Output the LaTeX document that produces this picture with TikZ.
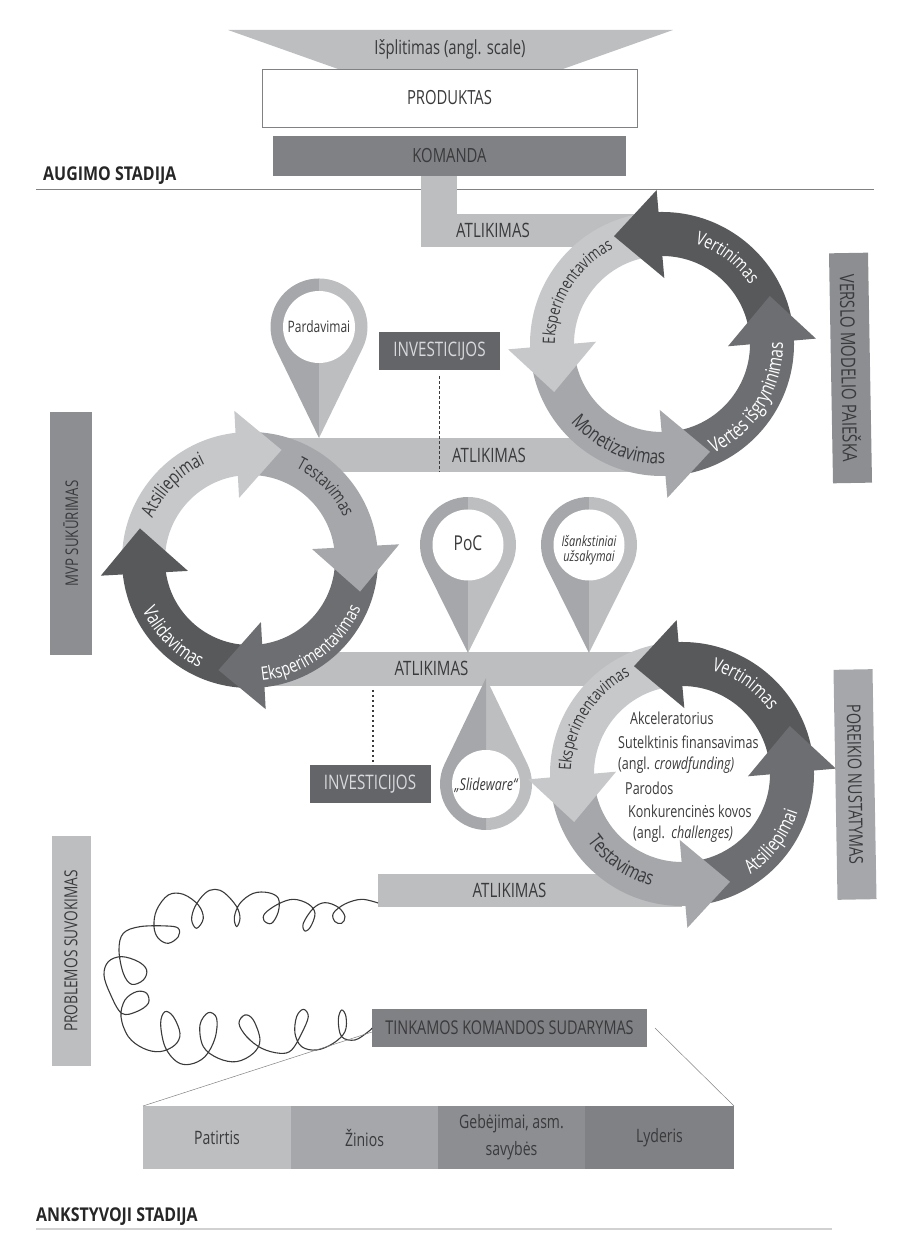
\documentclass[tikz,border=0pt]{standalone}
\usepackage{fontspec}
\setmainfont[FakeStretch=0.76]{Open Sans}
\newfontfamily\stagefont[FakeStretch=0.84]{Open Sans}
\usetikzlibrary{positioning, calc, decorations.text}

\definecolor{inkdark}{HTML}{3A3A3C}
\definecolor{inklight}{HTML}{D8D9DB}
\definecolor{greyA}{HTML}{58595B}
\definecolor{greyB}{HTML}{6D6E71}
\definecolor{greyC}{HTML}{808184}
\definecolor{greyD}{HTML}{8C8E91}
\definecolor{greyE}{HTML}{A5A7AA}
\definecolor{greyF}{HTML}{BCBEC0}
\definecolor{greyG}{HTML}{C6C8CA}

% centre, inner r, outer r, first head angle, step, then the four colours
\newcommand{\ringcycle}[9]{%
    \foreach \k/\col in {0/#6,1/#7,2/#8,3/#9}{
        \pgfmathsetmacro\turn{#5/90}
        \pgfmathsetmacro\ringend{#4+\k*#5+3*\turn}
        \pgfmathsetmacro\ringstart{\ringend-#5}
        \fill[fill=\col] ($(#1)+(\ringstart:#3)$) arc[start angle=\ringstart,end angle=\ringend,radius=#3]
            -- ($(#1)+(\ringend:#2)$) arc[start angle=\ringend,end angle=\ringstart,radius=#2] -- cycle;
    }
    \foreach \k/\col in {0/#6,1/#7,2/#8,3/#9}{
        \pgfmathsetmacro\ringend{#4+\k*#5}
        \pgfmathsetmacro\turn{#5/90}
        \fill[fill=\col] ($(#1)+({\ringend+2*\turn}:{#3+22})$)
            -- ($(#1)+({\ringend+24*\turn}:{(#2+#3)/2+8})$)
            -- ($(#1)+({\ringend-2*\turn}:{#2-22})$) -- cycle;
    }
}

% [size], centre, radius, start, end, colour, text
\newcommand{\ringlabel}[7][18.5]{%
    \path[decorate,decoration={text along path,text align=center,text={|\fontsize{#1}{20}\selectfont\color{#6}|#7}}]
        ($(#2)+(#4:#3)$) arc[start angle=#4,end angle=#5,radius=#3];
}

% centre, tip distance, outer r, inner r, rotation, two colours
\newcommand{\mappin}[7]{%
    \begin{scope}[shift={(#1)},rotate=#5]
        \pgfmathsetmacro\pinang{acos(#3/#2)}
        \fill[fill=#6] (90:#3) arc[start angle=90,end angle={270-\pinang},radius=#3] -- (0,-#2) -- cycle;
        \fill[fill=#7] (90:#3) arc[start angle=90,end angle={-90+\pinang},radius=#3] -- (0,-#2) -- cycle;
        \fill[white] (0,0) circle[radius=#4];
    \end{scope}
}

\begin{document}
\begin{tikzpicture}[x=1pt,y=1pt]
    \tikzset{
        bar/.style={rectangle, fill=greyF, inner sep=0pt, outer sep=0pt},
        box/.style={rectangle, inner sep=0pt, outer sep=0pt, text=inkdark,
                    font=\fontsize{19.5}{22}\selectfont, align=center},
        sidebox/.style={box, minimum width=230pt, minimum height=39pt},
        investbox/.style={box, fill=greyB!92!black, text=inklight, minimum width=121pt,
                    minimum height=38pt, font=\fontsize{20}{22}\selectfont},
        cell/.style={box, minimum height=63pt, font=\fontsize{18.5}{27}\selectfont},
        barlabel/.style={text=inkdark, inner sep=0pt, font=\fontsize{19.8}{22}\selectfont},
        pinlabel/.style={text=inkdark, inner sep=0pt, align=center},
        inside/.style={anchor=west, text=inkdark, inner sep=0pt, font=\fontsize{16.5}{18}\selectfont},
        stage/.style={anchor=west, text=black!85, inner sep=0pt,
                    font=\stagefont\bfseries\fontsize{19}{22}\selectfont},
        rule/.style={draw=greyC, line width=0.7pt},
        fanline/.style={draw=greyC, line width=0.5pt},
        dotline/.style={draw=inkdark, line width=1.3pt, dash pattern=on 2.5pt off 2.5pt},
        curl/.style={draw=inkdark, line width=1.1pt, line join=round}
    }
    \useasboundingbox (0,0) rectangle (911,1255);

    % top of the funnel
    \fill[greyF] (228,1225) -- (673,1225) -- (563,1186) -- (338,1186) -- cycle;
    \node[barlabel, font=\fontsize{19.5}{22}\selectfont] (scale) at (450,1206) {Išplitimas (angl. scale)};
    \node[box, draw=greyC, line width=0.5pt, fill=white, minimum width=375pt, minimum height=58pt] (product) at (449.5,1157) {PRODUKTAS};
    \node[box, fill=greyC, minimum width=353pt, minimum height=40pt, below=9pt of product] (team) {KOMANDA};

    \node[stage] (growth) at (43,1079) {AUGIMO STADIJA};
    \coordinate (growthleft) at (36,1066);
    \coordinate (growthright) at (874,1066);
    \draw[rule] (growthleft) -- (growthright);

    % bars behind the rings
    \node[bar, minimum width=36pt, minimum height=71pt] (riser) at (439,1043.5) {};
    \node[bar, minimum width=239pt, minimum height=33pt] (work1) at (540.5,1024.5) {};
    \node[bar, minimum width=370pt, minimum height=34pt] (work2) at (465,800) {};
    \node[bar, minimum width=400pt, minimum height=34pt] (work3) at (450,586) {};
    \node[bar, minimum width=304pt, minimum height=33pt] (work4) at (530,364.5) {};
    \node[barlabel] (worktext1) at (493,1025) {ATLIKIMAS};
    \node[barlabel] (worktext2) at (489,800) {ATLIKIMAS};
    \node[barlabel] (worktext3) at (431.5,587) {ATLIKIMAS};
    \node[barlabel] (worktext4) at (509.5,365) {ATLIKIMAS};

    % pins
    \mappin{319,928}{111}{48.5}{36}{0}{greyE}{greyF}
    \mappin{468,710}{108}{48}{35.5}{0}{greyE}{greyF}
    \mappin{589,710}{108}{48}{35.5}{0}{greyE}{greyF}
    \mappin{486,471}{106}{46}{34}{180}{greyF}{greyE}
    \node[pinlabel, font=\fontsize{15.8}{18}\selectfont] (sales) at (319,928) {Pardavimai};
    \node[pinlabel, font=\fontsize{20.5}{24}\selectfont] (poc) at (468,712) {PoC};
    \node[pinlabel, font=\itshape\fontsize{14.5}{15}\selectfont] (preorders) at (589,705) {Išankstiniai\\užsakymai};
    \node[pinlabel, font=\itshape\fontsize{16.5}{18}\selectfont] (slideware) at (486,470) {„Slideware“};

    % rings
    \ringcycle{662,911}{88}{132}{90}{90}{greyA}{greyG}{greyE}{greyB}
    \ringcycle{250,695}{85}{128}{98}{-90}{greyG}{greyE}{greyB}{greyA}
    \ringcycle{682,481}{88}{132}{90}{90}{greyA}{greyG}{greyE}{greyB}

    \ringlabel{662,911}{106}{108}{-2}{white}{Vertinimas}
    \ringlabel[17]{662,911}{107}{203.5}{93.5}{inkdark}{Eksperimentavimas}
    \ringlabel[20]{662,911}{120}{191}{301}{inkdark}{Monetizavimas}
    \ringlabel[20]{662,911}{121}{-87}{23}{white}{Vertės išgryninimas}
    \ringlabel[19]{250,695}{106}{191}{81}{inkdark}{Atsiliepimai}
    \ringlabel[17.7]{250,695}{103}{99}{-11}{inkdark}{Testavimas}
    \ringlabel{250,695}{121}{-109}{1}{white}{Eksperimentavimas}
    \ringlabel[19.5]{250,695}{119}{170}{280}{white}{Validavimas}
    \ringlabel[19]{682,481}{108}{110}{0}{white}{Vertinimas}
    \ringlabel[17]{682,481}{111}{203}{93}{inkdark}{Eksperimentavimas}
    \ringlabel[20]{682,481}{116}{180}{290}{inkdark}{Testavimas}
    \ringlabel[19.5]{682,481}{122}{-92}{18}{white}{Atsiliepimai}

    \node[inside] (accel) at (630,537) {Akceleratorius};
    \node[inside] (crowd) at (618,513) {Sutelktinis finansavimas};
    \node[inside] (crowden) at (618,490) {(angl. \textit{crowdfunding)}};
    \node[inside] (fairs) at (625,467) {Parodos};
    \node[inside] (contest) at (628,444) {Konkurencinės kovos};
    \node[inside] (contesten) at (633,421) {(angl.\ \ \textit{challenges)}};

    % side labels
    \node[sidebox, fill=greyD, rotate=-89, font=\fontsize{19.8}{22}\selectfont] (searchbox) at (850.5,887) {VERSLO MODELIO PAIEŠKA};
    \node[sidebox, fill=greyE, rotate=-89, font=\fontsize{19}{22}\selectfont] (needbox) at (855,470.5) {POREIKIO NUSTATYMAS};
    \node[sidebox, fill=greyD, minimum width=243pt, minimum height=41.5pt, rotate=90, font=\fontsize{17.5}{22}\selectfont] (mvpbox) at (71,721.5) {MVP SUKŪRIMAS};
    \node[sidebox, fill=greyF, rotate=90, font=\fontsize{18}{22}\selectfont] (problembox) at (71,304) {PROBLEMOS SUVOKIMAS};

    % investments
    \node[investbox] (invest1) at (439.5,903.5) {INVESTICIJOS};
    \node[investbox] (invest2) at (370,471) {INVESTICIJOS};
    \draw[dotline, shorten <=6pt] (invest1.south) -- (invest1.south |- work2.south);
    \draw[dotline, shorten <=4pt] ([xshift=3pt]work3.south -| invest2.north) -- ([xshift=3pt]invest2.north);

    % team and the loose thread
    \node[box, fill=greyC, minimum width=275pt, minimum height=38pt, font=\fontsize{19}{22}\selectfont] (teamup) at (509.5,227) {TINKAMOS KOMANDOS SUDARYMAS};
    \coordinate (curlstart) at (378,352);
    \begin{scope}[shift={(40,425)},x=0.3333pt,y=-0.3333pt]
        \draw[curl] plot[smooth, tension=0.6] coordinates {(curlstart) (965,208) (915,222) (880,250) (885,275) (905,280) (915,260) (895,232) (855,218) (820,235) (790,280) (795,303) (812,290) (825,250) (805,222) (760,208) (715,222) (675,250) (672,272) (695,280) (715,245) (715,205) (685,188) (640,190) (600,220) (583,262) (590,290) (600,265) (590,230) (555,190) (525,178) (495,190) (465,230) (455,270) (470,295) (490,265) (475,225) (430,193) (385,195) (350,240) (342,290) (355,325) (385,340) (415,320) (415,295) (380,288) (300,290) (250,310) (237,360) (250,430) (275,463) (310,450) (320,420) (295,395) (245,380) (205,395) (192,435) (210,490) (245,550) (290,545) (325,520) (320,490) (290,485) (255,510) (243,560) (265,620) (310,655) (360,665) (405,645) (420,610) (400,560) (375,545) (362,580) (375,650) (410,695) (450,703) (495,680) (525,625) (530,565) (505,548) (480,585) (490,650) (535,685) (590,695) (640,670) (660,630) (640,570) (615,555) (597,580) (620,620) (665,655) (720,670) (755,660) (785,610) (805,560) (790,538) (770,560) (765,610) (785,650) (830,660) (880,640) (915,605) (918,560) (905,540) (895,570) (905,620) (945,630) (985,605) (teamup.west)};
    \end{scope}

    % team table
    \node[cell, fill=greyF, minimum width=148pt] (skill1) at (217,117.5) {Patirtis};
    \node[cell, fill=greyE, minimum width=147pt, right=0pt of skill1] (skill2) {Žinios};
    \node[cell, fill=greyD, minimum width=147pt, right=0pt of skill2] (skill3) {Gebėjimai, asm.\\savybės};
    \node[cell, fill=greyC, minimum width=149pt, right=0pt of skill3] (skill4) {Lyderis};
    \draw[fanline] ([yshift=-4pt]teamup.west) -- (skill1.north west);
    \draw[fanline] ([xshift=8pt]teamup.east) -- (skill4.north east);

    \node[stage] (early) at (36,38) {ANKSTYVOJI STADIJA};
    \coordinate (earlyleft) at (36,26);
    \coordinate (earlyright) at (832,26);
    \draw[draw=greyF!70, line width=1.5pt] (earlyleft) -- (earlyright);
\end{tikzpicture}
\end{document}
